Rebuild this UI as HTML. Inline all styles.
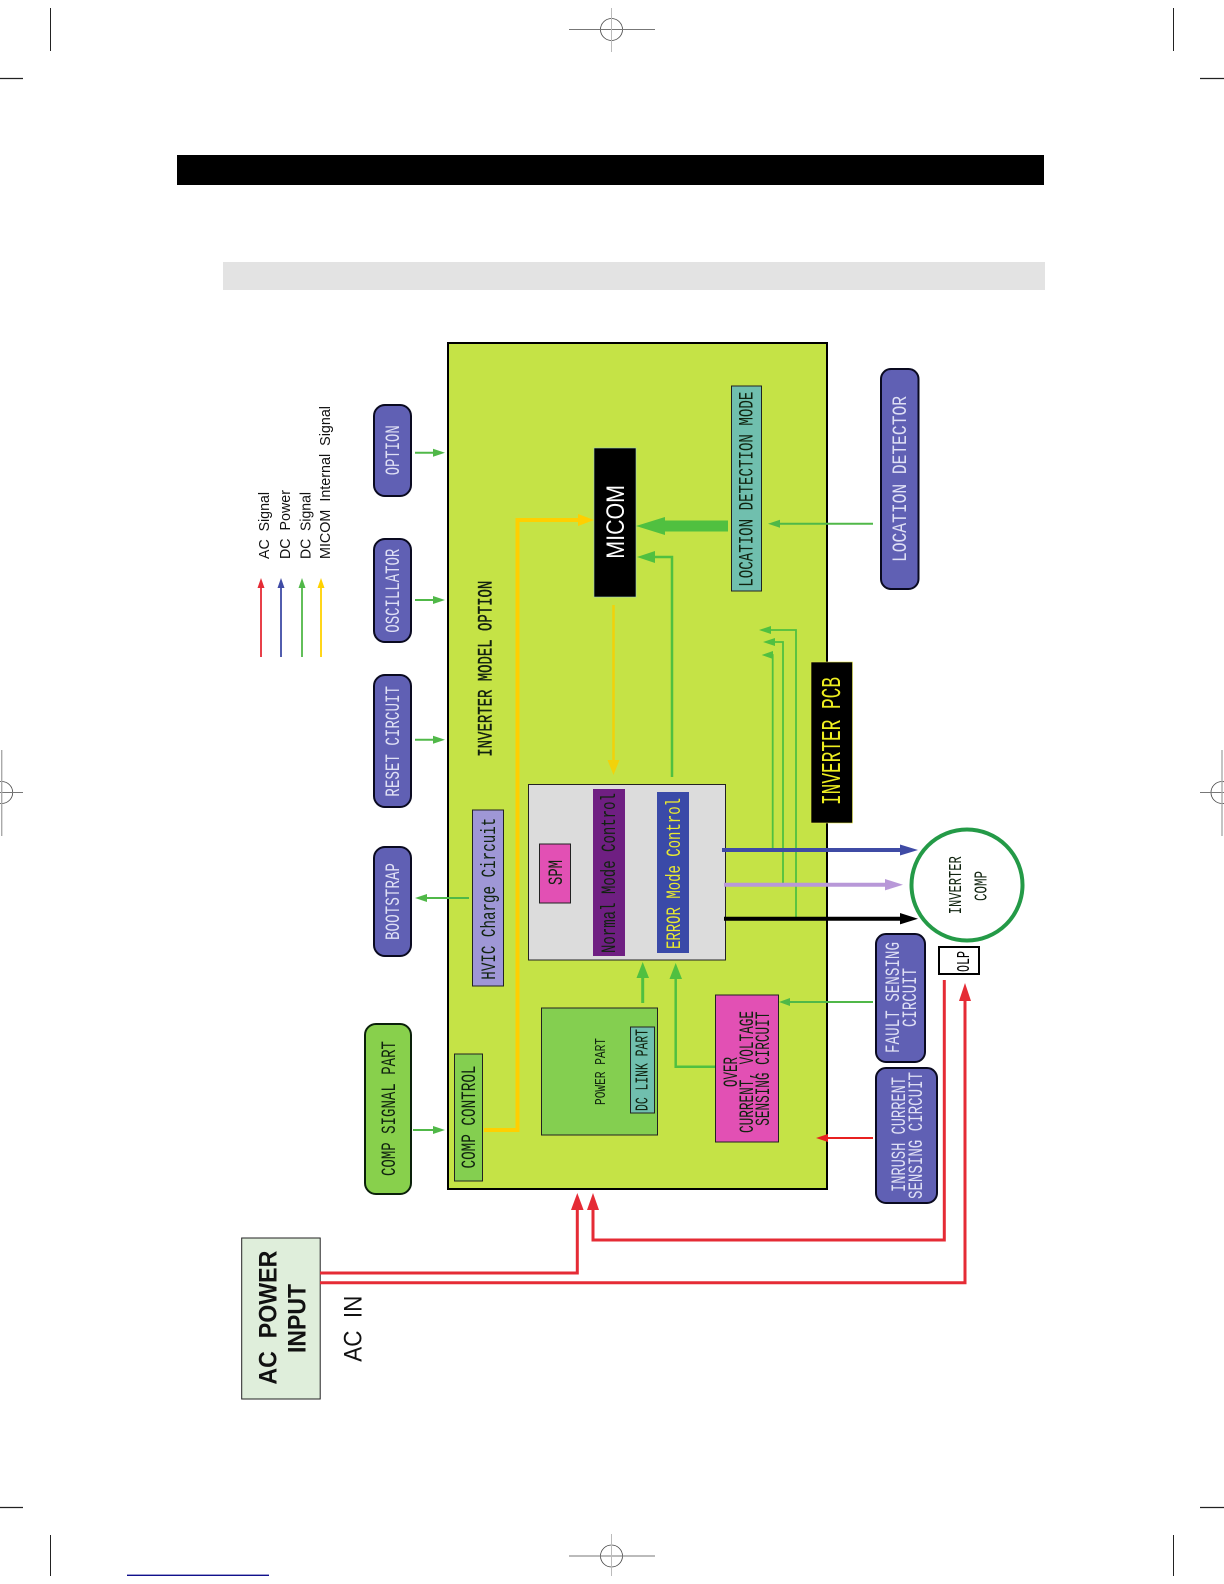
<!DOCTYPE html>
<html><head><meta charset="utf-8"><style>
html,body{margin:0;padding:0;background:#fff}
svg{display:block}
text{font-family:"Liberation Sans",sans-serif;white-space:pre}
.m text,text.m{font-family:"Liberation Mono",monospace}
</style></head><body>
<svg width="1224" height="1584" viewBox="0 0 1224 1584" xmlns="http://www.w3.org/2000/svg">
<rect width="1224" height="1584" fill="#fff"/>
<!-- crop marks -->
<g fill="none" stroke="#222" stroke-width="1">
<path d="M50.5 8V51M1173.5 8V51M50.5 1535V1576M1173.5 1535V1576"/>
<path d="M0 78.5H23M1200 78.5H1224M0 1507.5H23M1200 1507.5H1224" stroke-width="1.2"/>
<circle cx="611.5" cy="29.5" r="11" stroke="#444" stroke-width="0.8"/>
<circle cx="611.5" cy="1556" r="11" stroke="#444" stroke-width="0.8"/>
<circle cx="1.7" cy="792.5" r="11" stroke="#444" stroke-width="0.8"/>
<circle cx="1222" cy="792.5" r="11" stroke="#444" stroke-width="0.8"/>
<path d="M569 29.5H655M569 1556H655M0 792.5H23M1200 792.5H1224" stroke="#777"/>
<path d="M611.5 8V52M611.5 1534V1576" stroke="#bbb"/>
<path d="M1.7 750V836M1222 750V836" stroke="#aaa" stroke-width="1.4"/>
</g>
<rect x="127" y="1574.6" width="142" height="1.4" fill="#10108c"/>
<rect x="177" y="155" width="867" height="30" fill="#000"/>
<rect x="223" y="262" width="822" height="28" fill="#e3e3e3"/>

<!-- main board -->
<rect x="448" y="343" width="379" height="846" fill="#c5e346" stroke="#000" stroke-width="2"/>

<!-- legend -->
<g stroke-width="1.8" fill="none">
<path d="M261 657V588" stroke="#e52b35"/><path d="M281 657V588" stroke="#3f4ba5"/><path d="M302 657V588" stroke="#50b848"/><path d="M321 657V588" stroke="#ffd200"/>
</g>
<polygon points="261,578 257.5,588 264.5,588" fill="#e52b35"/>
<polygon points="281,578 277.5,588 284.5,588" fill="#3f4ba5"/>
<polygon points="302,578 298.5,588 305.5,588" fill="#50b848"/>
<polygon points="321,578 317.5,588 324.5,588" fill="#ffd200"/>

<!-- pills -->
<g fill="#6060b4" stroke="#0a0a20" stroke-width="2">
<rect x="374" y="405" width="37" height="91" rx="11"/>
<rect x="374" y="539" width="37" height="103" rx="11"/>
<rect x="374" y="675" width="37" height="132" rx="11"/>
<rect x="374" y="847" width="37" height="109" rx="11"/>
<rect x="881" y="369" width="37.5" height="220" rx="10"/>
<rect x="876" y="934" width="49" height="128" rx="10"/>
<rect x="876" y="1068" width="61" height="135" rx="10"/>
</g>
<rect x="365" y="1024" width="46" height="170" rx="11" fill="#88d04c" stroke="#0a200a" stroke-width="2"/>

<!-- inner boxes -->
<rect x="528.5" y="784.5" width="197" height="175.5" fill="#dcdcdc" stroke="#222" stroke-width="1"/>
<rect x="472.5" y="810" width="31" height="176" fill="#9f97d6" stroke="#222" stroke-width="1"/>
<rect x="454.5" y="1054" width="28" height="127" fill="#84cf50" stroke="#222" stroke-width="1"/>
<rect x="539.5" y="844" width="31" height="59" fill="#e250b4" stroke="#222" stroke-width="1"/>
<rect x="593" y="789" width="32" height="167" fill="#6f1f82"/>
<rect x="657" y="792" width="32" height="161" fill="#3a4aa8"/>
<rect x="541.5" y="1008" width="116" height="127" fill="#84cf50" stroke="#222" stroke-width="1"/>
<rect x="630.5" y="1027" width="24" height="86" fill="#70bfae" stroke="#222" stroke-width="1"/>
<rect x="715.5" y="995" width="63" height="147" fill="#e250b4" stroke="#222" stroke-width="1"/>
<rect x="594" y="448" width="42" height="149" fill="#000" stroke="#9fd0c0" stroke-width="0.6"/>
<rect x="731.5" y="386" width="30" height="205" fill="#70bfae" stroke="#222" stroke-width="1"/>
<rect x="811" y="662" width="41.5" height="161" fill="#000" stroke="#e6e84a" stroke-width="0.6"/>
<rect x="241.7" y="1238" width="78.5" height="161" fill="#dfeedb" stroke="#222" stroke-width="1"/>
<circle cx="967" cy="885" r="55.5" fill="#fff" stroke="#249a47" stroke-width="4"/>
<rect x="939" y="947" width="40" height="27" fill="#fff" stroke="#000" stroke-width="2"/>

<!-- yellow -->
<path d="M484 1130H517.5V520H584" fill="none" stroke="#ffcf00" stroke-width="4"/>
<polygon points="594,520 578,514 578,526" fill="#ffcf00"/>
<path d="M613.5 605V765" stroke="#f2d20a" stroke-width="2.5" fill="none"/>
<polygon points="613.5,775 607.5,760 619.5,760" fill="#f2d20a"/>

<!-- green thin arrows -->
<g fill="none" stroke="#50b848" stroke-width="2">
<path d="M415 452.7H436M415 600H436M415 739.7H436M413 1130H436"/>
<path d="M469 898H424"/>
<path d="M873 523.7H778"/>
<path d="M873 1002H788"/>
</g>
<g fill="#50b848">
<polygon points="445,452.7 433,448.7 433,456.7"/>
<polygon points="445,600 433,596 433,604"/>
<polygon points="445,739.7 433,735.7 433,743.7"/>
<polygon points="445,1130 433,1126 433,1134"/>
<polygon points="415,898 427,894 427,902"/>
<polygon points="768,523.7 780,519.7 780,527.7"/>
<polygon points="779,1002 790,998 790,1006"/>
</g>
<!-- thick location arrow -->
<rect x="664" y="520.5" width="64" height="11" fill="#50c040"/>
<polygon points="636,526 665,517 665,535" fill="#50c040"/>
<!-- from error to micom -->
<path d="M672 777V557H650" fill="none" stroke="#50c040" stroke-width="2.5"/>
<polygon points="637,557 655,551 655,563" fill="#50c040"/>
<!-- three feedback -->
<g fill="none" stroke="#50c040" stroke-width="1.8">
<path d="M772.7 849V655H770"/>
<path d="M783 885V642H772"/>
<path d="M796 919V630H768"/>
</g>
<g fill="#50c040">
<polygon points="761.7,655 773,651 773,659"/>
<polygon points="763,642 775,638 775,646"/>
<polygon points="759,630 771,626 771,634"/>
</g>
<!-- outputs -->
<path d="M722 850H902" stroke="#3f4ba5" stroke-width="4" fill="none"/>
<polygon points="918,850 900,844.5 900,855.5" fill="#3f4ba5"/>
<path d="M724 884.7H888" stroke="#b898d8" stroke-width="4" fill="none"/>
<polygon points="903,884.7 885,879 885,890.4" fill="#b898d8"/>
<path d="M724 918.7H902" stroke="#000" stroke-width="4" fill="none"/>
<polygon points="918,918.7 900,913 900,924.4" fill="#000"/>
<!-- internal green -->
<path d="M642.7 1003V975" stroke="#50c040" stroke-width="3" fill="none"/>
<polygon points="642.7,962 636.5,978 649,978" fill="#50c040"/>
<path d="M715 1066.7H675.7V975" stroke="#50c040" stroke-width="2.5" fill="none"/>
<polygon points="675.7,963 669.5,979 682,979" fill="#50c040"/>

<!-- red -->
<path d="M873 1138H826" stroke="#e82020" stroke-width="2" fill="none"/>
<polygon points="816,1138 828,1134 828,1142" fill="#e82020"/>
<g fill="none" stroke="#e52b35" stroke-width="3">
<path d="M320 1273H577.3V1205"/>
<path d="M320 1282.7H965V995"/>
<path d="M944.3 980V1240H593V1205"/>
</g>
<g fill="#e52b35">
<polygon points="577.3,1193 571,1210 583.6,1210"/>
<polygon points="593,1193 587,1210 599,1210"/>
<polygon points="965,983 959,1001 971,1001"/>
</g>

<!-- text -->
<g font-size="15" fill="#111">
<text transform="translate(269,559) rotate(-90)" textLength="67" lengthAdjust="spacingAndGlyphs">AC  Signal</text>
<text transform="translate(290,559) rotate(-90)" textLength="69" lengthAdjust="spacingAndGlyphs">DC  Power</text>
<text transform="translate(310.7,559) rotate(-90)" textLength="67" lengthAdjust="spacingAndGlyphs">DC  Signal</text>
<text transform="translate(330,559) rotate(-90)" textLength="153" lengthAdjust="spacingAndGlyphs">MICOM  Internal  Signal</text>
</g>
<g class="m" font-size="20" fill="#dfe0f5">
<text transform="translate(399,475.3) rotate(-90)" textLength="50" lengthAdjust="spacingAndGlyphs">OPTION</text>
<text transform="translate(399,632.7) rotate(-90)" textLength="84" lengthAdjust="spacingAndGlyphs">OSCILLATOR</text>
<text transform="translate(399,796.7) rotate(-90)" textLength="110.7" lengthAdjust="spacingAndGlyphs">RESET CIRCUIT</text>
<text transform="translate(399,940) rotate(-90)" textLength="77" lengthAdjust="spacingAndGlyphs">BOOTSTRAP</text>
<text transform="translate(906,562) rotate(-90)" textLength="166" lengthAdjust="spacingAndGlyphs">LOCATION DETECTOR</text>
<text transform="translate(899,1053) rotate(-90)" textLength="111" lengthAdjust="spacingAndGlyphs">FAULT SENSING</text>
<text transform="translate(916,1027) rotate(-90)" textLength="59" lengthAdjust="spacingAndGlyphs">CIRCUIT</text>
<text transform="translate(905,1192) rotate(-90)" textLength="115" lengthAdjust="spacingAndGlyphs">INRUSH CURRENT</text>
<text transform="translate(922,1199) rotate(-90)" textLength="127" lengthAdjust="spacingAndGlyphs">SENSING CIRCUIT</text>
</g>
<g class="m" font-size="20" fill="#10230f">
<text transform="translate(395,1176) rotate(-90)" textLength="135" lengthAdjust="spacingAndGlyphs">COMP SIGNAL PART</text>
<text transform="translate(475,1168.5) rotate(-90)" textLength="103" lengthAdjust="spacingAndGlyphs">COMP CONTROL</text>
<text transform="translate(495,979.7) rotate(-90)" textLength="162" lengthAdjust="spacingAndGlyphs">HVIC Charge Circuit</text>
<text transform="translate(491.7,756.7) rotate(-90)" textLength="176" lengthAdjust="spacingAndGlyphs" stroke="#111" stroke-width="0.4">INVERTER MODEL OPTION</text>
<text transform="translate(562,885) rotate(-90)" textLength="25" lengthAdjust="spacingAndGlyphs">SPM</text>
<text transform="translate(615,953) rotate(-90)" textLength="160" lengthAdjust="spacingAndGlyphs">Normal Mode Control</text>
<text transform="translate(680,949) rotate(-90)" textLength="151" lengthAdjust="spacingAndGlyphs" fill="#eaea30">ERROR Mode Control</text>
<text transform="translate(647.7,1111) rotate(-90)" textLength="82" lengthAdjust="spacingAndGlyphs" font-size="18">DC LINK PART</text>
<text transform="translate(737,1087) rotate(-90)" textLength="30" lengthAdjust="spacingAndGlyphs">OVER</text>
<text transform="translate(753,1133) rotate(-90)" textLength="122" lengthAdjust="spacingAndGlyphs">CURRENT, VOLTAGE</text>
<text transform="translate(769,1125.7) rotate(-90)" textLength="114" lengthAdjust="spacingAndGlyphs">SENSING CIRCUIT</text>
<text transform="translate(752.7,586.7) rotate(-90)" textLength="195" lengthAdjust="spacingAndGlyphs">LOCATION DETECTION MODE</text>
<text transform="translate(961,914.3) rotate(-90)" textLength="58" lengthAdjust="spacingAndGlyphs" font-size="18">INVERTER</text>
<text transform="translate(986.7,901) rotate(-90)" textLength="30" lengthAdjust="spacingAndGlyphs" font-size="18">COMP</text>
<text transform="translate(969,972) rotate(-90)" textLength="21" lengthAdjust="spacingAndGlyphs" font-size="18" fill="#000">OLP</text>
<text transform="translate(605,1105) rotate(-90)" textLength="67" lengthAdjust="spacingAndGlyphs" font-size="15">POWER PART</text>
<text transform="translate(840,805) rotate(-90)" textLength="128" lengthAdjust="spacingAndGlyphs" font-size="27" fill="#eeee20">INVERTER PCB</text>
</g>
<text transform="translate(624,558.7) rotate(-90)" textLength="73.7" lengthAdjust="spacingAndGlyphs" font-size="25" fill="#fff">MICOM</text>
<text transform="translate(276.7,1384.6) rotate(-90)" textLength="134" lengthAdjust="spacingAndGlyphs" font-size="25" font-weight="bold" fill="#111">AC  POWER</text>
<text transform="translate(305.7,1353) rotate(-90)" textLength="69" lengthAdjust="spacingAndGlyphs" font-size="25" font-weight="bold" fill="#111">INPUT</text>
<text transform="translate(361.7,1361.7) rotate(-90)" textLength="66" lengthAdjust="spacingAndGlyphs" font-size="25" fill="#111">AC  IN</text>
</svg>
</body></html>
